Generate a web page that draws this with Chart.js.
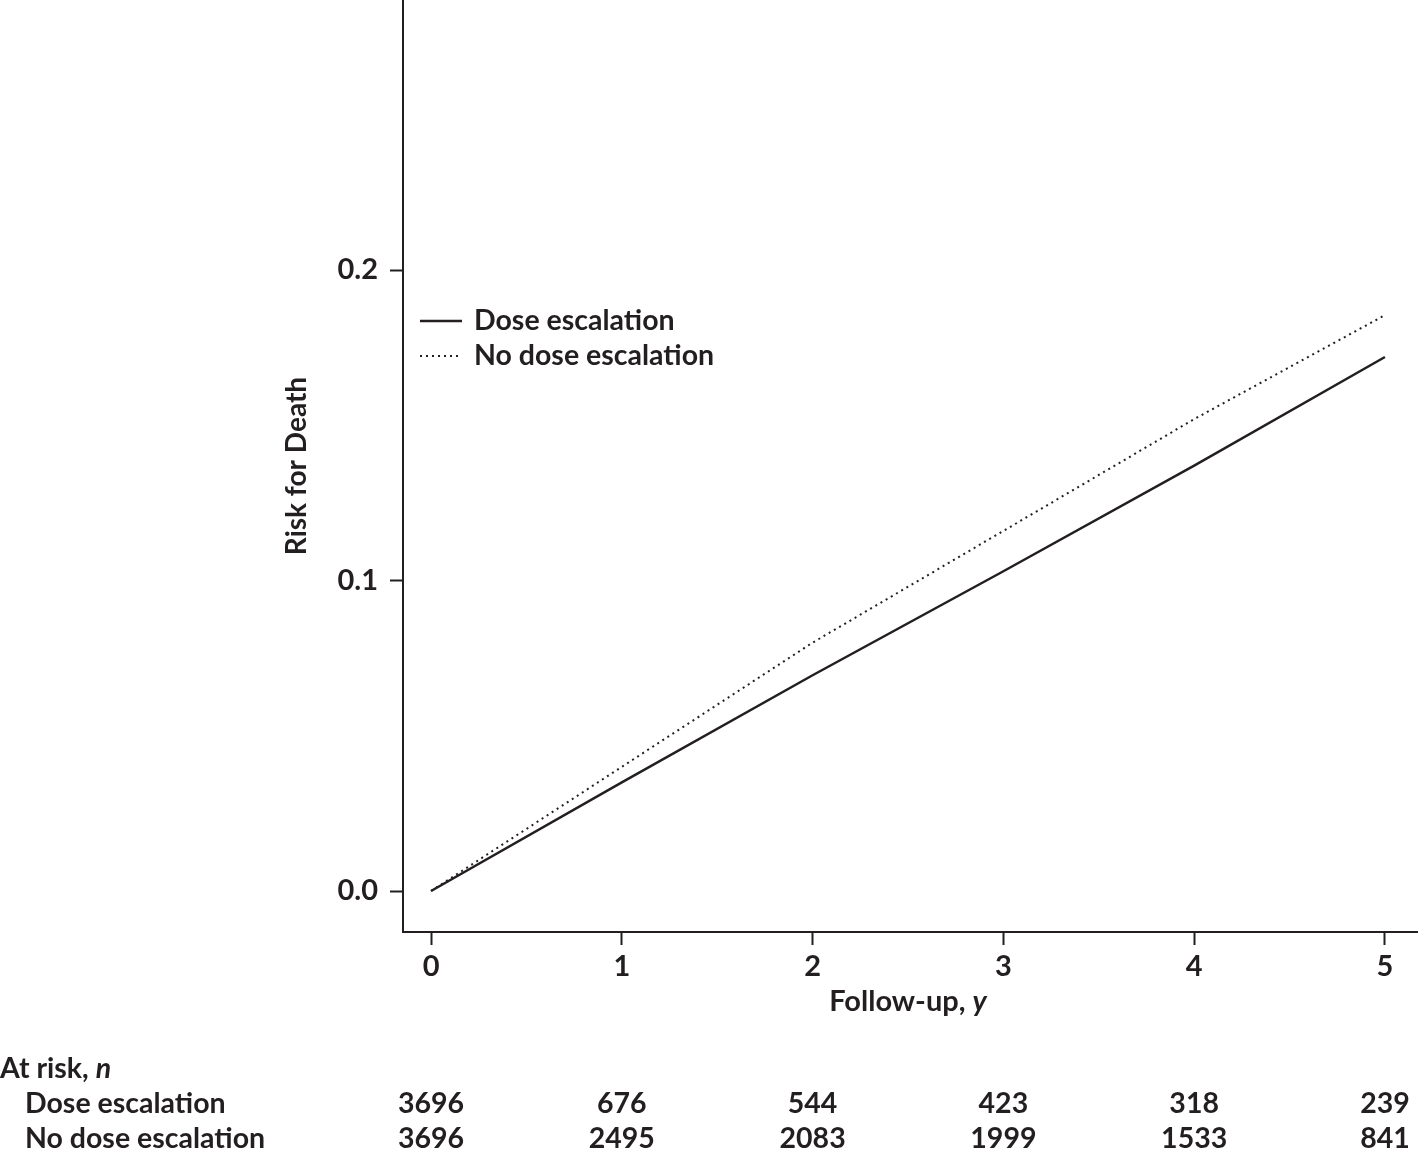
<!DOCTYPE html>
<html>
<head>
<meta charset="utf-8">
<title>Risk for Death</title>
<script src="https://cdn.jsdelivr.net/npm/chart.js@4.4.3/dist/chart.umd.min.js"></script>
<style>
  html, body { margin: 0; padding: 0; background: #fff; }
  #wrap { position: relative; width: 1419px; height: 1149px; }
</style>
</head>
<body>
<div id="wrap"><canvas id="risk-chart"></canvas></div>
<script>
const years = [0, 1, 2, 3, 4, 5];
const doseEscalation = [0, 0.035, 0.0695, 0.103, 0.137, 0.172];
const noDoseEscalation = [0, 0.040, 0.080, 0.116, 0.152, 0.1855];
const yTicks = [0, 0.1, 0.2];
const atRiskDose = [3696, 676, 544, 423, 318, 239];
const atRiskNoDose = [3696, 2495, 2083, 1999, 1533, 841];

const INK = "#231f20";
const FONT = "Lato, 'Open Sans', sans-serif";

function toPoints(values) {
  return values.map((v, i) => ({ x: years[i], y: v }));
}

// text with a trailing italic part, drawn left-aligned from sx
function mixedText(ctx, plain, italic, size, sx, y) {
  ctx.font = `bold ${size}px ${FONT}`;
  const w = ctx.measureText(plain).width;
  ctx.fillText(plain, sx, y);
  ctx.font = `italic bold ${size}px ${FONT}`;
  ctx.fillText(italic, sx + w, y);
  return w + ctx.measureText(italic).width;
}

// extra text: axis titles, legend and at-risk table
const annotations = {
  id: "annotations",
  afterDraw(chart) {
    const { ctx, chartArea, scales } = chart;
    const x = scales.x;
    ctx.save();
    ctx.fillStyle = INK;
    ctx.textBaseline = "middle";

    // y title
    ctx.save();
    ctx.translate(297, chartArea.top + 466);
    ctx.rotate(-Math.PI / 2);
    ctx.textAlign = "center";
    ctx.font = `bold 28px ${FONT}`;
    ctx.fillText("Risk for Death", 0, 0);
    ctx.restore();

    // x title with italic y
    ctx.textAlign = "left";
    ctx.font = `bold 29px ${FONT}`;
    const wa = ctx.measureText("Follow-up, ").width;
    ctx.font = `italic bold 29px ${FONT}`;
    const wb = ctx.measureText("y").width;
    mixedText(ctx, "Follow-up, ", "y", 29, x.getPixelForValue(2.5) - (wa + wb) / 2, 1002);

    // legend
    const items = [
      { label: "Dose escalation", ds: chart.data.datasets[0], y: 321 },
      { label: "No dose escalation", ds: chart.data.datasets[1], y: 356 },
    ];
    items.forEach((it) => {
      ctx.save();
      ctx.strokeStyle = it.ds.borderColor;
      ctx.lineWidth = it.ds.borderWidth;
      ctx.setLineDash(it.ds.borderDash || []);
      ctx.beginPath();
      ctx.moveTo(420, it.y);
      ctx.lineTo(462, it.y);
      ctx.stroke();
      ctx.restore();
      ctx.font = `bold 28.5px ${FONT}`;
      ctx.textAlign = "left";
      ctx.fillText(it.label, 474, it.y);
    });

    // at-risk table
    ctx.textAlign = "left";
    mixedText(ctx, "At risk, ", "n", 28.5, 0, 1069);
    ctx.font = `bold 28.5px ${FONT}`;
    ctx.fillText("Dose escalation", 25, 1104);
    ctx.fillText("No dose escalation", 25, 1139);
    ctx.textAlign = "center";
    years.forEach((yr, i) => {
      const px = x.getPixelForValue(yr);
      ctx.fillText(String(atRiskDose[i]), px, 1104);
      ctx.fillText(String(atRiskNoDose[i]), px, 1139);
    });
    ctx.restore();
  },
};

new Chart(document.getElementById("risk-chart"), {
  type: "line",
  data: {
    datasets: [
      {
        label: "Dose escalation",
        data: toPoints(doseEscalation),
        borderColor: INK,
        borderWidth: 2.5,
        pointRadius: 0,
        tension: 0,
        fill: false,
      },
      {
        label: "No dose escalation",
        data: toPoints(noDoseEscalation),
        borderColor: INK,
        borderWidth: 2,
        borderDash: [2, 4],
        pointRadius: 0,
        tension: 0,
        fill: false,
      },
    ],
  },
  options: {
    responsive: true,
    maintainAspectRatio: false,
    animation: false,
    layout: { padding: { top: 0, right: 2, bottom: 0, left: 0 } },
    scales: {
      x: {
        type: "linear",
        min: -0.147,
        max: 5.168,
        afterBuildTicks(scale) {
          scale.ticks = years.map((v) => ({ value: v }));
        },
        afterFit(scale) {
          scale.height = 217;
          scale.paddingLeft = 0;
          scale.paddingRight = 0;
        },
        ticks: {
          color: INK,
          font: { family: FONT, size: 29, weight: "bold" },
          padding: 4,
          maxRotation: 0,
          callback(value) {
            return String(value);
          },
        },
        grid: {
          display: true,
          drawOnChartArea: false,
          drawTicks: true,
          tickLength: 13,
          tickWidth: 2,
          tickColor: INK,
        },
        border: { color: INK, width: 2 },
      },
      y: {
        type: "linear",
        min: -0.0132,
        max: 0.287,
        afterBuildTicks(scale) {
          scale.ticks = yTicks.map((v) => ({ value: v }));
        },
        afterFit(scale) {
          scale.width = 403;
          scale.paddingTop = 0;
          scale.paddingBottom = 0;
        },
        ticks: {
          color: INK,
          font: { family: FONT, size: 29, weight: "bold" },
          padding: 12,
          callback(value) {
            return value.toFixed(1);
          },
        },
        grid: {
          display: true,
          drawOnChartArea: false,
          drawTicks: true,
          tickLength: 13,
          tickWidth: 2,
          tickColor: INK,
        },
        border: { color: INK, width: 2 },
      },
    },
    plugins: {
      legend: { display: false },
      tooltip: { enabled: false },
    },
  },
  plugins: [annotations],
});
</script>
</body>
</html>
